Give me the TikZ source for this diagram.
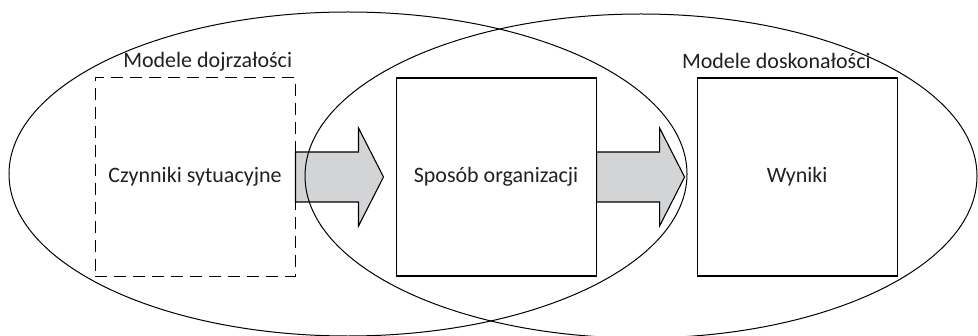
\documentclass[tikz,border=0pt]{standalone}
\usepackage{fontspec}
\setmainfont{Carlito}
\usetikzlibrary{shapes.geometric,positioning,calc}
\definecolor{arrowgray}{RGB}{211,212,214}
\definecolor{textgray}{RGB}{35,31,32}

\begin{document}
\begin{tikzpicture}[x=0.5pt,y=-0.5pt,
	box/.style={draw,line width=0.55pt,minimum width=100pt,minimum height=99pt,inner sep=0pt,text=textgray,font=\fontsize{11}{13}\selectfont},
	dashbox/.style={box,line width=0.5pt,dash pattern=on 6pt off 3.5pt},
	oval/.style={draw,ellipse,line width=0.5pt,inner sep=0pt},
	lbl/.style={inner sep=0pt,text=textgray,font=\fontsize{11}{13}\selectfont},
	blockarrow/.style={draw,fill=arrowgray,line width=0.55pt,line join=miter}]
	\useasboundingbox (0,0) rectangle (978,336);
	\node[dashbox] (sit) at (195,177) {Czynniki sytuacyjne};
	\node[box, right=50pt of sit] (org) {Sposób organizacji};
	\node[box, right=50pt of org] (wyn) {Wyniki};
	\foreach \a in {sit,org}
		\draw[blockarrow] ($(\a.east)+(0,-25)$) -- ++(63,0) -- ++(0,-24) -- ++(25,49)
			-- ++(-25,49) -- ++(0,-24) -- ++(-63,0) -- cycle;
	\node[oval,minimum width=339pt,minimum height=162pt] (dojrz) at (348,174) {};
	\node[oval,minimum width=336pt,minimum height=162pt] (dosk) at (641,176) {};
	\node[lbl,anchor=base east] (ldojrz) at ($(sit.north east)+(-3,-10)$) {Modele dojrzałości};
	\node[lbl,anchor=base west] (ldosk) at ($(wyn.north west)+(-15,-9)$) {Modele doskonałości};
\end{tikzpicture}
\end{document}
